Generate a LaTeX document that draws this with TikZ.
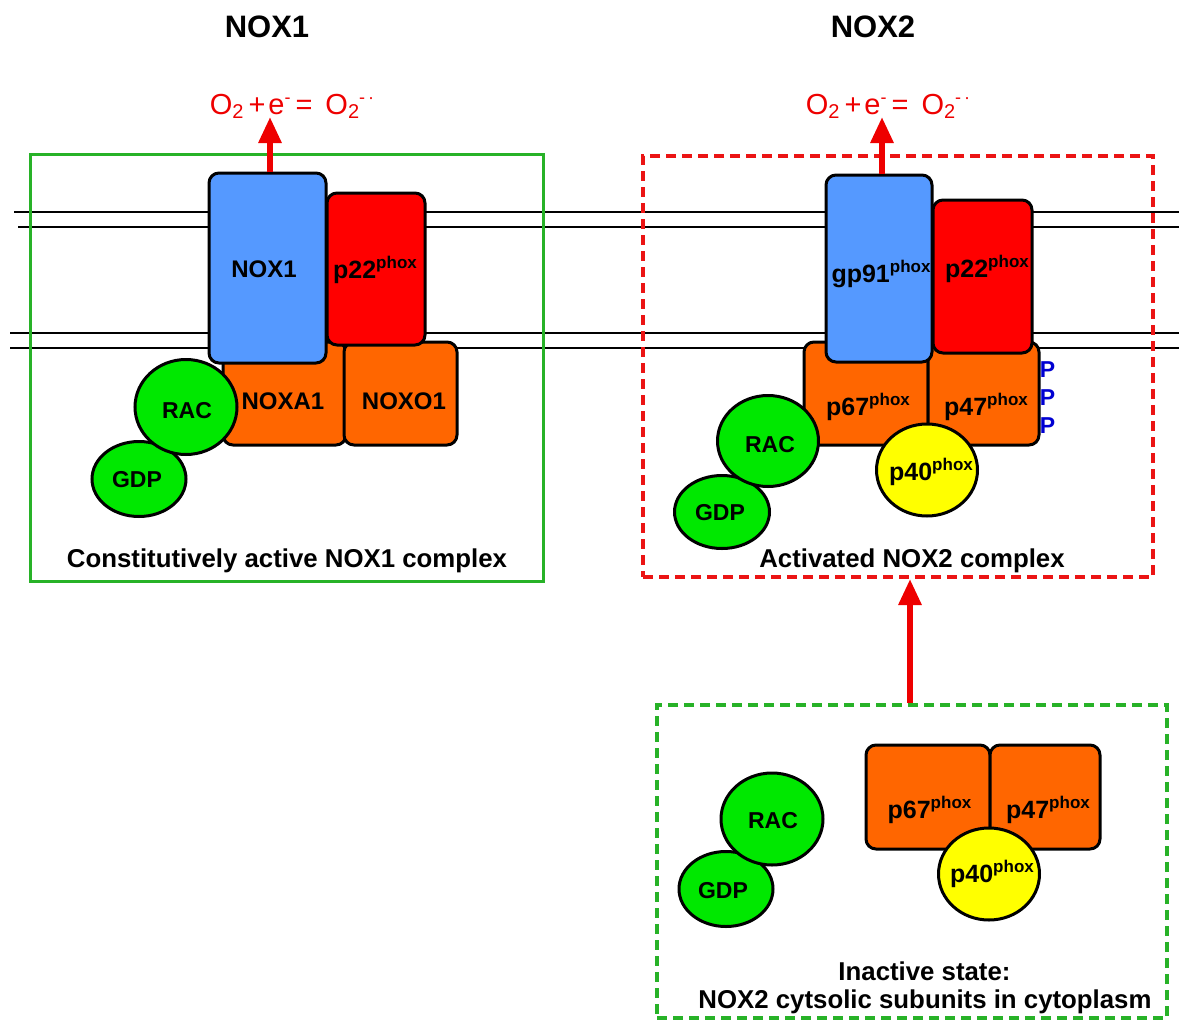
\documentclass[tikz,border=0pt]{standalone}
\usepackage{fontspec}
\setmainfont{Liberation Sans}
\usetikzlibrary{shapes.geometric,arrows.meta}
\definecolor{protblue}{RGB}{85,153,255}
\definecolor{protred}{RGB}{255,0,0}
\definecolor{protorange}{RGB}{255,102,0}
\definecolor{protgreen}{RGB}{0,232,0}
\definecolor{protyellow}{RGB}{255,255,0}
\definecolor{framegreen}{RGB}{40,178,40}
\definecolor{framered}{RGB}{235,20,20}
\definecolor{arrred}{RGB}{238,0,0}
\definecolor{pblue}{RGB}{0,0,210}
\newcommand{\phx}{\raisebox{10pt}{\fontsize{17}{17}\selectfont phox}}
\newcommand{\sbtwo}{\raisebox{-4pt}{\fontsize{20}{20}\selectfont 2}}
\newcommand{\spr}[1]{\raisebox{11pt}{\fontsize{18}{18}\selectfont #1}}
\newcommand{\superox}{O\sbtwo\hspace{5pt}+\hspace{3pt}e\spr{-}\hspace{5pt}=\hspace{13pt}O\sbtwo\spr{-\,·}}
\tikzset{
  prot/.style={draw=black, line width=3pt, rounded corners=10pt, inner sep=0pt},
  blob/.style={draw=black, line width=3pt, ellipse, inner sep=0pt},
  lbl/.style={font=\bfseries\fontsize{24}{28}\selectfont, inner sep=0pt, anchor=base},
  plbl/.style={font=\bfseries\fontsize{25}{28}\selectfont, inner sep=0pt, anchor=base},
  clbl/.style={font=\bfseries\fontsize{23}{28}\selectfont, inner sep=0pt, anchor=base},
  caption/.style={font=\bfseries\fontsize{25.8}{28}\selectfont, inner sep=0pt, anchor=base},
  title/.style={font=\bfseries\fontsize{31}{36}\selectfont, inner sep=0pt, anchor=base},
  formula/.style={font=\fontsize{29}{34}\selectfont, text=arrred, inner sep=0pt, anchor=base},
  plabel/.style={font=\bfseries\fontsize{23}{26}\selectfont, text=pblue, inner sep=0pt, anchor=base},
  memline/.style={line width=1.5pt, black},
  redarrow/.style={draw=arrred, line width=6pt, -{Triangle[width=22pt,length=26pt]}},
}
\begin{document}
\begin{tikzpicture}[x=1pt,y=-1pt]
\useasboundingbox (0,0) rectangle (1179,1021);

% membrane
\draw[memline] (14,212) -- (1179,212);
\draw[memline] (18,227) -- (1179,227);
\draw[memline] (10,333) -- (1179,333);
\draw[memline] (10,348) -- (1179,348);

% frames
\node[draw=framegreen, line width=3pt, minimum width=513pt, minimum height=427pt, inner sep=0pt] (nox1frame) at (286.5,367.5) {};
\node[draw=framered, line width=4pt, dash pattern=on 10pt off 6pt, minimum width=510pt, minimum height=421pt, inner sep=0pt] (activeframe) at (898,366.5) {};
\node[draw=framegreen, line width=4pt, dash pattern=on 10pt off 6pt, minimum width=510pt, minimum height=313pt, inner sep=0pt] (inactframe) at (912,861.5) {};

% titles
\node[title] (t1) at (267,37) {NOX1};
\node[title] (t2) at (873,37) {NOX2};

% ---------- NOX1 complex ----------
\node[prot, fill=protorange, minimum width=123pt, minimum height=103pt] (noxa1) at (284.5,393.5) {};
\node[prot, fill=protorange, minimum width=113pt, minimum height=103pt] (noxo1) at (400.5,393.5) {};
\node[prot, fill=protblue, minimum width=117pt, minimum height=190pt] (nox1) at (267.5,268) {};
\node[prot, fill=protred, minimum width=98pt, minimum height=152pt] (p22a) at (376,269) {};
\node[blob, fill=protgreen, minimum width=94pt, minimum height=75pt] (gdpa) at (139,479) {};
\node[blob, fill=protgreen, minimum width=102pt, minimum height=95pt] (raca) at (186,407) {};
\node[lbl] (lnox1) at (264,277) {NOX1};
\node[plbl] (lp22a) at (375,278) {p22\phx};
\node[lbl] (lnoxa1) at (283,409) {NOXA1};
\node[lbl] (lnoxo1) at (404,409) {NOXO1};
\node[clbl] (lraca) at (187,418) {RAC};
\node[clbl] (lgdpa) at (137,487) {GDP};
\node[caption] (cap1) at (287,567) {Constitutively active NOX1 complex};

% ---------- activated NOX2 complex ----------
\node[prot, fill=protorange, minimum width=124pt, minimum height=103pt] (p67b) at (866,393.5) {};
\node[prot, fill=protorange, minimum width=111pt, minimum height=103pt] (p47b) at (983.5,393.5) {};
\node[prot, fill=protblue, minimum width=106pt, minimum height=187pt] (gp91) at (879,268.5) {};
\node[prot, fill=protred, minimum width=99pt, minimum height=153pt] (p22b) at (982.5,276.5) {};
\node[blob, fill=protyellow, minimum width=101pt, minimum height=92pt] (p40b) at (927,470) {};
\node[blob, fill=protgreen, minimum width=95pt, minimum height=73pt] (gdpb) at (722,512) {};
\node[blob, fill=protgreen, minimum width=101pt, minimum height=91pt] (racb) at (768,441) {};
\node[plbl] (lgp91) at (881,282) {gp91\phx};
\node[plbl] (lp22b) at (987,277) {p22\phx};
\node[plbl] (lp67b) at (868,415) {p67\phx};
\node[plbl] (lp47b) at (986,415) {p47\phx};
\node[plbl] (lp40b) at (931,480) {p40\phx};
\node[clbl] (lracb) at (770,452) {RAC};
\node[clbl] (lgdpb) at (720,520) {GDP};
\node[plabel] (pp1) at (1047.5,377) {P};
\node[plabel] (pp2) at (1047.5,405) {P};
\node[plabel] (pp3) at (1047.5,433) {P};
\node[caption] (cap2) at (912,567) {Activated NOX2 complex};

% ---------- inactive state ----------
\node[prot, fill=protorange, minimum width=124pt, minimum height=104pt] (p67c) at (928,797) {};
\node[prot, fill=protorange, minimum width=110pt, minimum height=104pt] (p47c) at (1045,797) {};
\node[blob, fill=protyellow, minimum width=101pt, minimum height=92pt] (p40c) at (989,874) {};
\node[blob, fill=protgreen, minimum width=94pt, minimum height=75pt] (gdpc) at (726,889) {};
\node[blob, fill=protgreen, minimum width=102pt, minimum height=92pt] (racc) at (772,819) {};
\node[plbl] (lp67c) at (929.5,818) {p67\phx};
\node[plbl] (lp47c) at (1048,818) {p47\phx};
\node[plbl] (lp40c) at (992,882) {p40\phx};
\node[clbl] (lracc) at (773,828) {RAC};
\node[clbl] (lgdpc) at (723,898) {GDP};
\node[caption] (cap3a) at (924.5,980) {Inactive state:};
\node[caption] (cap3b) at (925,1008) {NOX2 cytsolic subunits in cytoplasm};

% formulas
\node[formula] (fa) at (292,114) {\superox};
\node[formula] (fb) at (888,114) {\superox};

% arrows
\coordinate (tipa) at (270,117);
\coordinate (tipb) at (882,117);
\coordinate (midx) at (910,0);
\draw[redarrow] (nox1.north -| tipa) -- (tipa);
\draw[redarrow] (gp91.north -| tipb) -- (tipb);
\draw[redarrow] (inactframe.north -| midx) -- (activeframe.south -| midx);
\end{tikzpicture}
\end{document}
